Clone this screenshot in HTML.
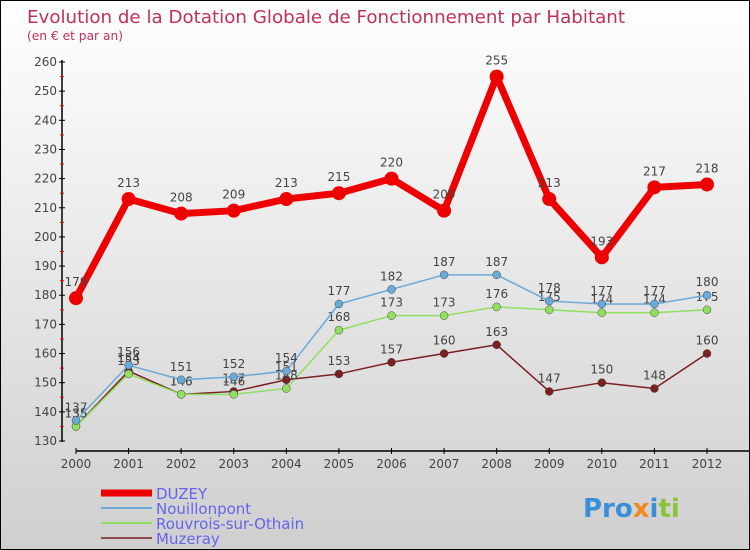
<!DOCTYPE html>
<html><head><meta charset="utf-8"><style>
body{margin:0}
#c{position:relative;width:750px;height:550px;box-sizing:border-box;border:1px solid #000;background:linear-gradient(#fff,#cfcfcf);font-family:"DejaVu Sans","Liberation Sans",sans-serif;overflow:hidden}
</style></head><body>
<div id="c">
<svg id="s" width="750" height="550" style="position:absolute;left:0;top:0">
<text x="26" y="22" font-size="18" fill="#c0305a" font-family="DejaVu Sans, sans-serif" textLength="598" lengthAdjust="spacingAndGlyphs">Evolution de la Dotation Globale de Fonctionnement par Habitant</text>
<text x="26" y="39" font-size="12" fill="#c0305a" textLength="96" lengthAdjust="spacingAndGlyphs">(en € et par an)</text>
<g id="axes"></g><g id="series"></g><g id="legend"></g>
<text x="582" y="516" font-size="26" font-weight="bold" fill="#3a8fd8">Pro<tspan fill="#f08a20">x</tspan><tspan fill="#3a8fd8">i</tspan><tspan fill="#8ac43a">ti</tspan></text>
</svg>
</div>
<script>
const years=[2000,2001,2002,2003,2004,2005,2006,2007,2008,2009,2010,2011,2012];
const duzey=[179,213,208,209,213,215,220,209,255,213,193,217,218];
const nouillonpont=[137,156,151,152,154,177,182,187,187,178,177,177,180];
const rouvrois=[135,153,146,146,148,168,173,173,176,175,174,174,175];
const muzeray=[135,154,146,147,151,153,157,160,163,147,150,148,160];
const yTicks=[130,140,150,160,170,180,190,200,210,220,230,240,250,260];
const NS='http://www.w3.org/2000/svg';
const X=i=>75+i*(706-75)/(years.length-1);
const Y=v=>440-(v-130)*(440-61)/130;
function mk(t,a,p){const e=document.createElementNS(NS,t);for(const k in a)e.setAttribute(k,a[k]);p.appendChild(e);return e;}
const ax=document.getElementById('axes');
let l=mk('line',{x1:61,y1:59,x2:61,y2:441,stroke:'#000','stroke-width':1.5},ax);

yTicks.forEach(v=>{mk('line',{x1:58,y1:Y(v),x2:64,y2:Y(v),stroke:'#000'},ax);
 if(v<260)mk('line',{x1:59,y1:Y(v+5),x2:63,y2:Y(v+5),stroke:'#f00'},ax);
 const t=mk('text',{x:56,y:Y(v)+4,'font-size':12,fill:'#444','text-anchor':'end'},ax);t.textContent=v;
 });
l=mk('line',{x1:75,y1:450,x2:750,y2:450,stroke:'#000','stroke-width':1.5},ax);

years.forEach((y,i)=>{mk('line',{x1:X(i),y1:447,x2:X(i),y2:453,stroke:'#000'},ax);
 const t=mk('text',{x:X(i),y:467,'font-size':12,fill:'#444','text-anchor':'middle'},ax);t.textContent=y;
 });
const sg=document.getElementById('series');
const S=[{n:'Muzeray',d:muzeray,c:'#7a2020',w:1.5,r:4},{n:'Rouvrois-sur-Othain',d:rouvrois,c:'#8fe060',w:1.5,r:4},{n:'Nouillonpont',d:nouillonpont,c:'#6aaad8',w:1.5,r:4},{n:'DUZEY',d:duzey,c:'#ee0000',w:7,r:7}];
S.forEach(s=>{const g=mk('g',{},sg);
 
 const p=mk('polyline',{points:s.d.map((v,i)=>X(i)+','+Y(v)).join(' '),fill:'none',stroke:s.c,'stroke-width':s.w,'stroke-linejoin':'round'},g);
 
 s.d.forEach((v,i)=>{const c=mk('circle',{cx:X(i),cy:Y(v),r:s.r,fill:s.c,stroke:'#444','stroke-width':s.r>5?0:0.5},g);
  
  const t=mk('text',{x:X(i),y:Y(v)-(s.r+5),'font-size':12,fill:'#444','text-anchor':'middle'},g);t.textContent=v;
  });});
const lg=document.getElementById('legend');
[{n:'DUZEY',c:'#ee0000',w:7},{n:'Nouillonpont',c:'#6aaad8',w:2},{n:'Rouvrois-sur-Othain',c:'#8fe060',w:2},{n:'Muzeray',c:'#8a4a4a',w:2}].forEach((e,i)=>{
 const y=492+i*15;
 const g=mk('g',{},lg);
 mk('line',{x1:100,y1:y,x2:151,y2:y,stroke:e.c,'stroke-width':e.w},g);
 const t=mk('text',{x:155,y:y+6,'font-size':15,fill:'#6464ee'},g);t.textContent=e.n;});
</script>
</body></html>
